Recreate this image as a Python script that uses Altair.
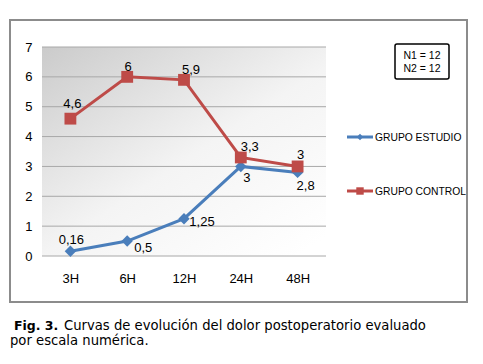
import altair as alt
import pandas as pd

# ---------------- data ----------------
categories = ["3H", "6H", "12H", "24H", "48H"]
series_names = ["GRUPO ESTUDIO", "GRUPO CONTROL"]
estudio = [0.16, 0.5, 1.25, 3, 2.8]
control = [4.6, 6, 5.9, 3.3, 3]
estudio_labels = ["0,16", "0,5", "1,25", "3", "2,8"]
control_labels = ["4,6", "6", "5,9", "3,3", "3"]
y_ticks = [0, 1, 2, 3, 4, 5, 6, 7]
n_box_lines = ["N1 = 12", "N2 = 12"]
caption_bold = "Fig. 3."
caption_line1 = "Curvas de evolución del dolor postoperatorio evaluado"
caption_line2 = "por escala numérica."

rows = []
for s, vals, labs in [(series_names[0], estudio, estudio_labels),
                      (series_names[1], control, control_labels)]:
    for i, (c, v, l) in enumerate(zip(categories, vals, labs)):
        rows.append({"series": s, "time": c, "value": v, "label": l, "idx": i})
df = pd.DataFrame(rows)

# ---------------- styles ----------------
FONT = "Liberation Sans Narrow, Arial Narrow, Liberation Sans, sans-serif"
CAP_FONT = "DejaVu Sans, Verdana, sans-serif"
BLUE = "#4a7ebb"
RED = "#be4b48"
W, H = 284, 209

# label offsets (dx, dy) per point
offsets = {
    series_names[0]: [(1, -11), (16, 7), (18, 3), (6, 12), (8, 14)],
    series_names[1]: [(2, -15), (1, -10), (7, -10), (9, -10), (3, -11)],
}

xs = alt.Scale(type="point", padding=0.5, domain=categories)
ys = alt.Scale(domain=[0, 7], nice=False, zero=True)

x_axis = alt.Axis(title=None, labelAngle=0, ticks=False, domain=False,
                  grid=False, labelPadding=16, labelFont=FONT,
                  labelFontSize=13, labelColor="#000000")
y_axis = alt.Axis(title=None, values=y_ticks, ticks=False, domain=False,
                  grid=False, labelPadding=10, labelFont=FONT,
                  labelFontSize=13, labelColor="#000000")

X = alt.X("time:N", sort=categories, scale=xs, axis=x_axis)
Y = alt.Y("value:Q", scale=ys, axis=y_axis)

one = pd.DataFrame({"t": [""]})

background = alt.Chart(one).mark_rect(
    fill=alt.Gradient(
        gradient="linear", x1=0, y1=0, x2=0.9, y2=1,
        stops=[alt.GradientStop(offset=0, color="#cbcbcb"),
               alt.GradientStop(offset=0.55, color="#f4f4f4"),
               alt.GradientStop(offset=1, color="#ffffff")]),
).encode(x=alt.value(0), x2=alt.value(W), y=alt.value(0), y2=alt.value(H))

grid = alt.Chart(pd.DataFrame({"value": y_ticks})).mark_rule(
    color="#a8a8a8", strokeWidth=1
).encode(y=Y, x=alt.value(0), x2=alt.value(W))

base = alt.Chart(df)

def series_layers(name, color, shape, size):
    d = base.transform_filter(alt.datum.series == name)
    line = d.mark_line(color=color, strokeWidth=3).encode(x=X, y=Y, order="idx:Q")
    pts = d.mark_point(shape=shape, filled=True, color=color, size=size,
                       opacity=1).encode(x=X, y=Y)
    return [line, pts]

layers = [background, grid]
layers += series_layers(series_names[0], BLUE, "diamond", 130)
layers += series_layers(series_names[1], RED, "square", 140)

for name in series_names:
    for i, (dx, dy) in enumerate(offsets[name]):
        layers.append(
            base.transform_filter((alt.datum.series == name) & (alt.datum.idx == i))
            .mark_text(font=FONT, fontSize=13, color="#000000", dx=dx, dy=dy,
                       align="center", baseline="middle")
            .encode(x=X, y=Y, text="label:N")
        )

# manual legend
legend_y = [90, 144]
legend_shapes = ["diamond", "square"]
legend_sizes = [40, 55]
legend_colors = [BLUE, RED]
for name, ly, sh, sz, col in zip(series_names, legend_y, legend_shapes,
                                 legend_sizes, legend_colors):
    ld = alt.Chart(pd.DataFrame({"t": [name]}))
    layers.append(ld.mark_rule(color=col, strokeWidth=3).encode(
        x=alt.value(305), x2=alt.value(331), y=alt.value(ly)))
    layers.append(ld.mark_point(shape=sh, filled=True, color=col, size=sz,
                                opacity=1).encode(x=alt.value(318), y=alt.value(ly)))
    layers.append(ld.mark_text(font=FONT, fontSize=10.3, color="#000000",
                               align="left", baseline="middle").encode(
        x=alt.value(333), y=alt.value(ly + 1), text="t:N"))

# N box
layers.append(alt.Chart(one).mark_rect(fill="#ffffff", stroke="#000000",
                                       strokeWidth=1.5, cornerRadius=2).encode(
    x=alt.value(353), x2=alt.value(407), y=alt.value(-3), y2=alt.value(32)))
for txt, ty in zip(n_box_lines, [9, 22]):
    layers.append(alt.Chart(pd.DataFrame({"t": [txt]})).mark_text(
        font=FONT, fontSize=10.5, color="#000000", align="center",
        baseline="middle").encode(x=alt.value(380), y=alt.value(ty), text="t:N"))

# outer frame
layers.append(alt.Chart(one).mark_rect(fill=None, stroke="#8c8c8c",
                                       strokeWidth=2).encode(
    x=alt.value(-32), x2=alt.value(425), y=alt.value(-27), y2=alt.value(255)))

# caption
layers.append(alt.Chart(pd.DataFrame({"t": [caption_bold]})).mark_text(
    font=CAP_FONT, fontSize=12.5, fontWeight="bold", color="#000000",
    align="left", baseline="alphabetic").encode(
    x=alt.value(-28), y=alt.value(283), text="t:N"))
layers.append(alt.Chart(pd.DataFrame({"t": [caption_line1]})).mark_text(
    font=CAP_FONT, fontSize=13.2, color="#000000",
    align="left", baseline="alphabetic").encode(
    x=alt.value(22), y=alt.value(283), text="t:N"))
layers.append(alt.Chart(pd.DataFrame({"t": [caption_line2]})).mark_text(
    font=CAP_FONT, fontSize=13.2, color="#000000",
    align="left", baseline="alphabetic").encode(
    x=alt.value(-32), y=alt.value(298), text="t:N"))

chart = alt.layer(*layers).properties(
    width=W, height=H,
    padding={"left": 34, "top": 39, "right": 149, "bottom": 96},
    autosize=alt.AutoSizeParams(type="none"),
    background="#ffffff",
).configure_view(stroke=None)

chart.save("out.html", embed_options={"renderer": "svg", "actions": False})
